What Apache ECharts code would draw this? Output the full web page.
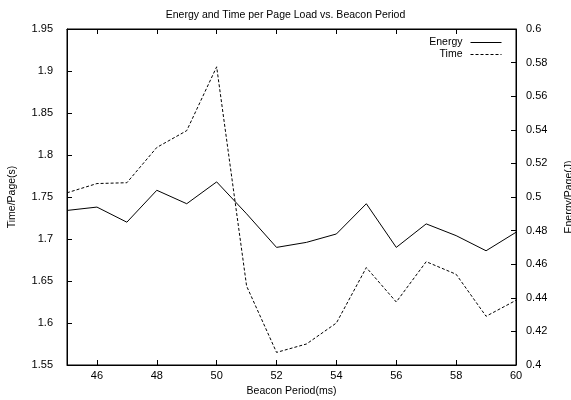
<!DOCTYPE html>
<html><head><meta charset="utf-8">
<script src="https://cdn.jsdelivr.net/npm/echarts@6/dist/echarts.min.js"></script>
<style>html,body{margin:0;padding:0;background:#fff}#c{width:571px;height:400px}</style>
</head><body><div id="c"></div>
<script>
var periods = [45,46,47,48,49,50,51,52,53,54,55,56,57,58,59,60];
var timeVals = [1.755,1.766,1.767,1.809,1.829,1.905,1.644,1.565,1.575,1.600,1.666,1.625,1.673,1.658,1.608,1.627];
var energyVals = [0.492,0.494,0.485,0.504,0.496,0.509,0.490,0.470,0.473,0.478,0.496,0.470,0.484,0.477,0.468,0.479];
var xTicks = [46,48,50,52,54,56,58,60];
var leftTicks = [1.55,1.6,1.65,1.7,1.75,1.8,1.85,1.9,1.95];
var rightTicks = [0.4,0.42,0.44,0.46,0.48,0.5,0.52,0.54,0.56,0.58,0.6];

var F = 'Liberation Sans, Arial, Helvetica, sans-serif';
var lineC = '#000';
var chart = echarts.init(document.getElementById('c'), null, {renderer:'canvas'});
function pairs(ys){ return periods.map(function(x,i){return [x, ys[i]];}); }
chart.setOption({
  animation:false,
  backgroundColor:'#fff',
  title:{text:'Energy and Time per Page Load vs. Beacon Period', left:'center', top:5,
    textStyle:{fontFamily:F, fontSize:10.5, fontWeight:'normal', color:'#000'}},
  legend:{orient:'vertical', right:64, top:32, align:'right', itemWidth:31, itemHeight:8, itemGap:1,
    itemStyle:{opacity:0, borderWidth:0},
    lineStyle:{width:1},
    textStyle:{fontFamily:F, fontSize:10.5, color:'#000', padding:[0,3,0,0]},
    data:[{name:'Energy'},{name:'Time'}]},
  grid:{left:67, right:55, top:29, bottom:35, show:true, borderColor:'#000', borderWidth:1,
    containLabel:false, outerBoundsMode:'none'},
  xAxis:[{type:'value', min:45, max:60, position:'bottom',
    name:'Beacon Period(ms)', nameLocation:'middle', nameGap:21,
    nameTextStyle:{fontFamily:F, fontSize:10.5, color:'#000'},
    axisLine:{show:true, lineStyle:{color:lineC}},
    axisTick:{show:true, inside:true, length:5, lineStyle:{color:lineC}, customValues:xTicks},
    axisLabel:{fontFamily:F, fontSize:11, color:'#000', margin:5, customValues:xTicks},
    splitLine:{show:false}},
   {type:'value', min:45, max:60, position:'top',
    axisLine:{show:true, lineStyle:{color:lineC}},
    axisTick:{show:true, inside:true, length:5, lineStyle:{color:lineC}, customValues:xTicks},
    axisLabel:{show:false}, splitLine:{show:false}}],
  yAxis:[{type:'value', min:1.55, max:1.95, interval:0.05, position:'left',
    name:'Time/Page(s)', nameLocation:'middle', nameGap:49, nameRotate:90,
    nameTextStyle:{fontFamily:F, fontSize:10.5, color:'#000'},
    axisLine:{show:true, lineStyle:{color:lineC}},
    axisTick:{show:true, inside:true, length:5, lineStyle:{color:lineC}, customValues:leftTicks},
    axisLabel:{fontFamily:F, fontSize:11, color:'#000', margin:14, customValues:leftTicks,
      formatter:function(v){return String(+v.toFixed(2));}},
    splitLine:{show:false}},
   {type:'value', min:0.4, max:0.6, interval:0.02, position:'right',
    name:'Energy/Page(J)', nameLocation:'middle', nameGap:48, nameRotate:90,
    nameTextStyle:{fontFamily:F, fontSize:10.5, color:'#000'},
    axisLine:{show:true, lineStyle:{color:lineC}},
    axisTick:{show:true, inside:true, length:5, lineStyle:{color:lineC}, customValues:rightTicks},
    axisLabel:{fontFamily:F, fontSize:11, color:'#000', margin:10, customValues:rightTicks,
      formatter:function(v){return String(+v.toFixed(2));}},
    splitLine:{show:false}}],
  series:[
    {name:'Energy', type:'line', xAxisIndex:0, yAxisIndex:1, data:pairs(energyVals), symbol:'none',
      lineStyle:{color:'#000', width:1}, itemStyle:{color:'#000'}},
    {name:'Time', type:'line', xAxisIndex:0, yAxisIndex:0, data:pairs(timeVals), symbol:'none',
      lineStyle:{color:'#000', width:1, type:[3,2]}, itemStyle:{color:'#000'}}
  ]
});
</script></body></html>
